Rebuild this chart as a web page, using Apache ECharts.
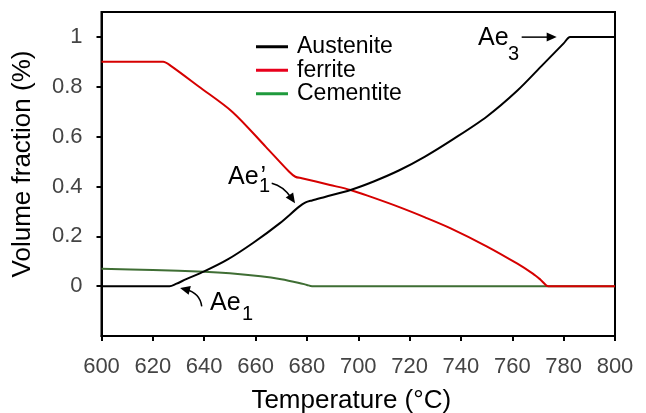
<!DOCTYPE html>
<html>
<head>
<meta charset="utf-8">
<script src="https://cdn.jsdelivr.net/npm/echarts@6/dist/echarts.min.js"></script>
<style>
html,body{margin:0;padding:0;background:#fff;}
#chart{width:646px;height:413px;}
</style>
</head>
<body>
<div id="chart"></div>
<script>
// ---- data ----
const seriesNames = ['Austenite', 'ferrite', 'Cementite'];

const austeniteT = [600, 624, 626.5, 629, 633, 640, 649, 659, 669.5, 677, 679.5, 682, 687, 697, 706, 716, 726, 737, 750, 762, 772, 780, 782.5, 785, 800];
const austeniteV = [0, 0, 0, 0.009, 0.028, 0.059, 0.106, 0.173, 0.253, 0.319, 0.336, 0.344, 0.358, 0.386, 0.42, 0.465, 0.52, 0.59, 0.68, 0.785, 0.89, 0.974, 1.0, 1.0, 1.0];

const ferriteT = [600, 621, 624, 627, 638, 651, 664, 673, 675.5, 678, 689, 697, 705, 716, 726, 736, 750, 762, 768, 771, 774, 777, 800];
const ferriteV = [0.9, 0.9, 0.9, 0.884, 0.80, 0.699, 0.559, 0.46, 0.439, 0.433, 0.406, 0.386, 0.358, 0.317, 0.276, 0.232, 0.16, 0.09, 0.05, 0.026, 0, 0, 0];

const cementiteT = [600, 620, 640, 650, 662, 670, 677, 680, 682, 685, 800];
const cementiteV = [0.07, 0.065, 0.058, 0.052, 0.04, 0.028, 0.013, 0.005, 0, 0, 0];

const yTickValues = [0, 0.2, 0.4, 0.6, 0.8, 1];
const xTickLabels = [600, 620, 640, 660, 680, 700, 720, 740, 760, 780, 800];

// annotation anchors (data coordinates of the transition points)
const annoAe1p = [679.5, 0.336];
const annoAe3 = [782.5, 1.0];
const annoAe1 = [626.5, 0];

function zip(t, v) { return t.map((x, i) => [x, v[i]]); }

const FONT = "'Liberation Sans', Arial, sans-serif";
const lineColors = ['#000000', '#d60000', '#3f6e34'];
const legendColors = ['#000000', '#e8001c', '#1f9a3c'];

const chart = echarts.init(document.getElementById('chart'), null, {renderer: 'canvas'});

const option = {
  animation: false,
  backgroundColor: '#ffffff',
  grid: {
    left: 101.5, right: 31, top: 12, bottom: 77,
    show: true, borderColor: '#000', borderWidth: 2, backgroundColor: 'transparent',
    containLabel: false, outerBoundsMode: 'none'
  },
  legend: {
    orient: 'vertical',
    left: 251, top: 30,
    icon: 'rect',
    itemWidth: 32, itemHeight: 3, itemGap: 0,
    data: seriesNames.map((n, i) => ({name: n, itemStyle: {color: legendColors[i]}})),
    textStyle: {fontFamily: FONT, fontSize: 23, color: '#000', lineHeight: 23.5, padding: [0, 0, 0, 4]}
  },
  xAxis: {
    type: 'value', min: 600, max: 800, interval: 20,
    name: 'Temperature (°C)', nameLocation: 'middle', nameGap: 52,
    nameTextStyle: {fontFamily: FONT, fontSize: 26, color: '#000', padding: [0, 14, 0, 0]},
    axisLine: {show: true, onZero: false, lineStyle: {color: '#000', width: 2}},
    axisTick: {show: true, inside: false, length: 5, lineStyle: {color: '#000', width: 2},
      customValues: xTickLabels},
    axisLabel: {fontFamily: FONT, fontSize: 22, color: '#444', margin: 20,
      customValues: xTickLabels},
    splitLine: {show: false}
  },
  yAxis: {
    type: 'value', min: -0.2, max: 1.1, interval: 0.2,
    name: 'Volume fraction (%)', nameLocation: 'middle', nameGap: 66, nameRotate: 90,
    nameTextStyle: {fontFamily: FONT, fontSize: 26, color: '#000', padding: [0, 0, 0, 20]},
    axisLine: {show: true, onZero: false, lineStyle: {color: '#000', width: 2}},
    axisTick: {show: true, inside: false, length: 5, lineStyle: {color: '#000', width: 2},
      customValues: yTickValues},
    axisLabel: {fontFamily: FONT, fontSize: 22, color: '#444', margin: 19,
      customValues: yTickValues},
    splitLine: {show: false}
  },
  series: [
    {name: seriesNames[0], type: 'line', data: zip(austeniteT, austeniteV), showSymbol: false, z: 4,
      smooth: 0.3,
      lineStyle: {color: lineColors[0], width: 2}, itemStyle: {color: lineColors[0]}},
    {name: seriesNames[1], type: 'line', data: zip(ferriteT, ferriteV), showSymbol: false, z: 3,
      smooth: 0.3,
      lineStyle: {color: lineColors[1], width: 2}, itemStyle: {color: lineColors[1]}},
    {name: seriesNames[2], type: 'line', data: zip(cementiteT, cementiteV), showSymbol: false, z: 2,
      smooth: 0.3,
      lineStyle: {color: lineColors[2], width: 2}, itemStyle: {color: lineColors[2]}}
  ]
};

chart.setOption(option);

// ---- annotations: positioned relative to data anchors ----
function px(p) { return chart.convertToPixel({gridIndex: 0}, p); }

function txt(x, y, s, size) {
  return {type: 'text', x: x, y: y, z: 10,
    style: {text: s, fontFamily: FONT, fontSize: size, fill: '#000', align: 'left', verticalAlign: 'middle'}};
}

function arrow(a, from, ctrl, to) {
  const p0 = [a[0] + from[0], a[1] + from[1]];
  const c = [a[0] + ctrl[0], a[1] + ctrl[1]];
  const tip = [a[0] + to[0], a[1] + to[1]];
  let dx = tip[0] - c[0], dy = tip[1] - c[1];
  const L = Math.hypot(dx, dy) || 1; dx /= L; dy /= L;
  const hl = 10, hw = 4.5;
  const base = [tip[0] - dx * hl, tip[1] - dy * hl];
  const end = [tip[0] - dx * hl * 0.6, tip[1] - dy * hl * 0.6];
  return [
    {type: 'bezierCurve', z: 10, shape: {x1: p0[0], y1: p0[1], x2: end[0], y2: end[1], cpx1: c[0], cpy1: c[1]},
      style: {stroke: '#000', lineWidth: 1.5, fill: null}},
    {type: 'polygon', z: 10, shape: {points: [tip, [base[0] - dy * hw, base[1] + dx * hw], [base[0] + dy * hw, base[1] - dx * hw]]},
      style: {fill: '#000', stroke: null}}
  ];
}

function buildGraphics() {
  const g = [];
  // Ae1'
  let a = px(annoAe1p);
  g.push(txt(a[0] - 77.6, a[1] - 25.2, 'Ae', 25));
  g.push(txt(a[0] - 46.6, a[1] - 15.8, '1', 20));
  g.push(txt(a[0] - 45, a[1] - 25.5, '’', 25));
  g.push(...arrow(a, [-33.9, -19.2], [-22.3, -16.5], [-10.6, 0.8]));
  // Ae3
  a = px(annoAe3);
  g.push(txt(a[0] - 92.1, a[1] + 0.8, 'Ae', 25));
  g.push(txt(a[0] - 62.1, a[1] + 17.5, '3', 20));
  g.push(...arrow(a, [-48.4, 0.2], [-30, 0.2], [-13.4, 0.2]));
  // Ae1
  a = px(annoAe1);
  g.push(txt(a[0] + 40.5, a[1] + 16.5, 'Ae', 25));
  g.push(txt(a[0] + 72.5, a[1] + 28.5, '1', 20));
  g.push(...arrow(a, [32.2, 20.2], [30.5, 6.8], [10.5, 1.8]));
  return g;
}

chart.setOption({graphic: buildGraphics()});
</script>
</body>
</html>
